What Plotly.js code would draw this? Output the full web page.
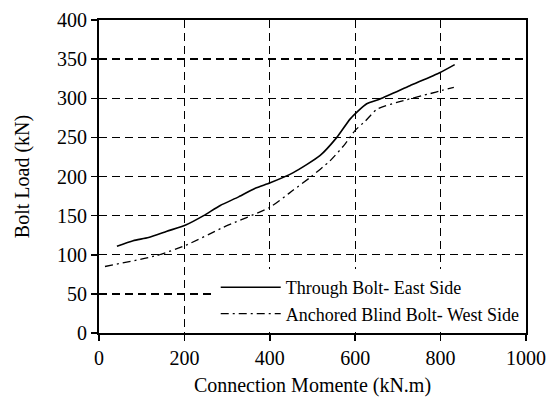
<!DOCTYPE html>
<html><head><meta charset="utf-8">
<script src="https://cdn.plot.ly/plotly-3.0.1.min.js"></script>
<style>html,body{margin:0;padding:0;background:#fff;}#chart{width:550px;height:401px;}
#chart svg text{font-family:'Liberation Serif', serif !important;}</style>
</head><body><div id="chart"></div>
<script>
const throughX = [42, 80, 116, 159, 203, 245, 284, 327, 366, 401, 455, 518, 557, 589, 627, 658, 728, 799, 833];
const throughY = [111, 118, 122, 130, 138, 150, 163, 174, 185, 192, 205, 227, 250, 274, 293, 299, 316, 333, 343];
const blindX = [14, 135, 203, 291, 401, 456, 495, 541, 577, 600, 624, 651, 713, 776, 803, 831];
const blindY = [85, 99, 112, 135, 161, 183, 199, 220, 242, 259, 271, 286, 297, 306, 310, 314];
const names = ["Through Bolt- East Side", "Anchored Blind Bolt- West Side"];
const xTicks = [0, 200, 400, 600, 800, 1000];
const yTicks = [0, 50, 100, 150, 200, 250, 300, 350, 400];

const FAM = "Liberation Serif, serif";
const font = {family: FAM, size: 20, color: "#000"};
const legFont = {family: FAM, size: 18, color: "#000"};
const data = [
  {x: throughX, y: throughY, name: names[0], mode: "lines", line: {color: "#000", width: 1.6, shape: "spline", smoothing: 0.6}},
  {x: blindX, y: blindY, name: names[1], mode: "lines", line: {color: "#000", width: 1.3, dash: "8px,4px,2px,4px", shape: "spline", smoothing: 0.6}}
];
const axisCommon = {
  showline: true, linecolor: "#000", linewidth: 2, mirror: true,
  ticks: "outside", ticklen: 6, tickwidth: 1.5, tickcolor: "#000",
  showgrid: true, gridcolor: "#000", gridwidth: 1.3, griddash: "8px,5px",
  zeroline: false, tickfont: font
};
const layout = {
  width: 550, height: 401,
  margin: {l: 99, r: 24, t: 20, b: 68},
  paper_bgcolor: "#fff", plot_bgcolor: "#fff",
  font: font,
  showlegend: true,
  legend: {x: 0.997, y: 0.003, xanchor: "right", yanchor: "bottom", bgcolor: "#fff",
           font: legFont, tracegroupgap: 0, itemwidth: 60},
  xaxis: Object.assign({}, axisCommon, {range: [0, 1000], tickvals: xTicks, ticktext: xTicks.map(String),
    title: {text: "Connection Momente (kN.m)", font: font, standoff: 10}}),
  yaxis: Object.assign({}, axisCommon, {range: [0, 400], tickvals: yTicks, ticktext: yTicks.map(String),
    title: {text: "Bolt Load (kN)", font: font, standoff: 22}})
};
Plotly.newPlot("chart", data, layout, {displayModeBar: false, staticPlot: true});
</script></body></html>
